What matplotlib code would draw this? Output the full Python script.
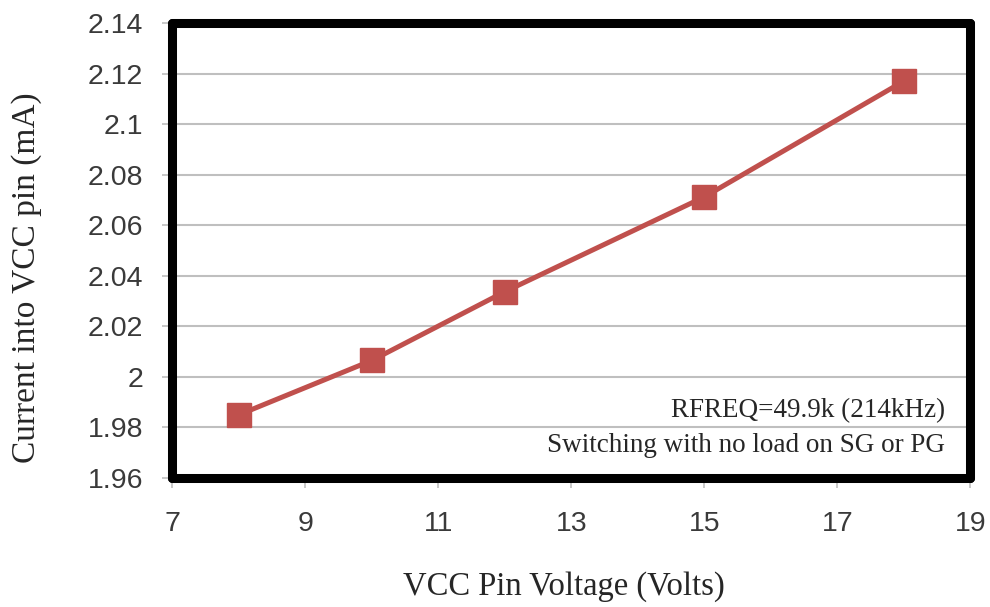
import matplotlib
matplotlib.use("Agg")
import matplotlib.pyplot as plt

voltage = [8, 10, 12, 15, 18]
current = [1.985, 2.0065, 2.0337, 2.0712, 2.117]
x_ticks = [7, 9, 11, 13, 15, 17, 19]
y_ticks = [1.96, 1.98, 2.00, 2.02, 2.04, 2.06, 2.08, 2.10, 2.12, 2.14]
y_labels = ["1.96", "1.98", "2", "2.02", "2.04", "2.06", "2.08", "2.1", "2.12", "2.14"]

fig = plt.figure(figsize=(9.9, 6.07), dpi=100)
ax = fig.add_axes([0.174, 0.2125, 0.806, 0.7495])

ax.plot(voltage, current, color="#C0504D", lw=3.6, marker="s", ms=17,
        markerfacecolor="#C0504D", markeredgecolor="#C0504D", zorder=3, clip_on=False)

ax.set_xlim(7, 19)
ax.set_ylim(1.96, 2.14)
ax.set_xticks(x_ticks)
ax.set_yticks(y_ticks)
ax.set_yticklabels(y_labels)
ax.yaxis.grid(True, color="#BFBFBF", lw=1.5)
ax.set_axisbelow(True)

for s in ax.spines.values():
    s.set_linewidth(6.5)
    s.set_color("black")
    s.set_capstyle("round")
    s.set_joinstyle("round")

ax.tick_params(axis="both", length=7, width=1.2, color="#BFBFBF",
               labelsize=20.5, labelcolor="#3A3A3A")
ax.tick_params(axis="y", pad=14)
ax.tick_params(axis="x", pad=17)
for lbl in ax.get_xticklabels() + ax.get_yticklabels():
    lbl.set_fontfamily("Liberation Sans")

ax.set_xlabel("VCC Pin Voltage (Volts)", fontsize=23.5, family="Liberation Serif",
              color="#262626")
ax.xaxis.set_label_coords(0.491, -0.205)
ax.set_ylabel("Current into VCC pin (mA)", fontsize=24, family="Liberation Serif",
              color="#262626")
ax.yaxis.set_label_coords(-0.163, 0.44)

ax.text(0.9687, 0.11, "RFREQ=49.9k (214kHz)\nSwitching with no load on SG or PG",
        transform=ax.transAxes, ha="right", va="center", fontsize=19.5,
        family="Liberation Serif", color="#262626", linespacing=1.5, multialignment="right")

fig.savefig("out.png", dpi=100)
